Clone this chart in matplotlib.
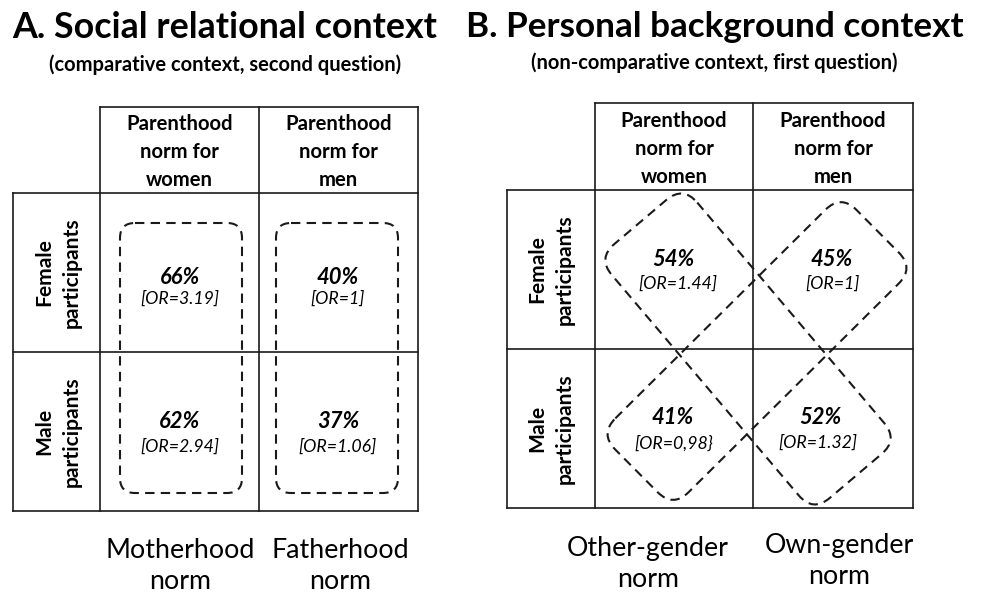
import matplotlib
matplotlib.use("Agg")
import matplotlib.pyplot as plt
from matplotlib.patches import FancyBboxPatch
from matplotlib.transforms import Affine2D

plt.rcParams['font.family'] = ['Lato', 'DejaVu Sans']

# ---------------- data ----------------
panel_titles = ["A. Social relational context", "B. Personal background context"]
panel_subtitles = ["(comparative context, second question)",
                   "(non-comparative context, first question)"]
col_headers = ["Parenthood\nnorm for\nwomen", "Parenthood\nnorm for\nmen"]
row_labels = ["Female\nparticipants", "Male\nparticipants"]
# rows: female, male ; cols: norm for women, norm for men
pct_A = [["66%", "40%"], ["62%", "37%"]]
or_A = [["[OR=3.19]", "[OR=1]"], ["[OR=2.94]", "[OR=1.06]"]]
pct_B = [["54%", "45%"], ["41%", "52%"]]
or_B = [["[OR=1.44]", "[OR=1]"], ["[OR=0,98}", "[OR=1.32]"]]
bottom_A = ["Motherhood\nnorm", "Fatherhood\nnorm"]
bottom_B = ["Other-gender\nnorm", "Own-gender\nnorm"]

W, H = 981, 593
fig = plt.figure(figsize=(W / 100, H / 100), dpi=100)
ax = fig.add_axes([0, 0, 1, 1])
ax.set_xlim(0, W)
ax.set_ylim(H, 0)
ax.set_aspect('equal')
ax.axis('off')

def px(p):
    return p * 0.72

LC = '#1a1a1a'
LW = 1.2

def draw_table(xs, ys_head, ys_rows, x_left):
    x0, x1, x2 = xs
    ax.plot([x0, x2], [ys_head[0], ys_head[0]], color=LC, lw=LW, solid_capstyle='projecting')
    for x in xs:
        ax.plot([x, x], [ys_head[0], ys_rows[-1]], color=LC, lw=LW, solid_capstyle='projecting')
    for y in ys_rows:
        ax.plot([x_left, x2], [y, y], color=LC, lw=LW, solid_capstyle='projecting')
    ax.plot([x_left, x_left], [ys_rows[0], ys_rows[-1]], color=LC, lw=LW, solid_capstyle='projecting')

def rounded(cx, cy, L, Wd, r, angle):
    p = FancyBboxPatch((cx - L / 2, cy - Wd / 2), L, Wd,
                       boxstyle=f"round,pad=0,rounding_size={r}",
                       fill=False, edgecolor=LC, lw=1.5, linestyle=(0, (4.5, 3.0)))
    p.set_transform(Affine2D().rotate_deg_around(cx, cy, angle) + ax.transData)
    ax.add_patch(p)

def fill_panel(xs, ys_head, ys_rows, x_left, head_y, row_x, pct, ors, pct_pos, or_pos,
               bottom, bottom_pos):
    draw_table(xs, ys_head, ys_rows, x_left)
    for j, h in enumerate(col_headers):
        cx = (xs[j] + xs[j + 1]) / 2
        ax.text(cx, head_y, h, ha='center', va='center', fontsize=px(20.3),
                fontweight='bold', linespacing=1.5)
    for i, rl in enumerate(row_labels):
        cy = (ys_rows[i] + ys_rows[i + 1]) / 2
        ax.text(row_x, cy, rl, ha='center', va='center', rotation=90,
                fontsize=px(21), fontweight='bold', linespacing=1.45)
    for i in range(2):
        for j in range(2):
            x, y = pct_pos[i][j]
            ax.text(x, y, pct[i][j], ha='center', va='center', fontsize=px(22),
                    fontweight='bold', fontstyle='italic')
            x, y = or_pos[i][j]
            ax.text(x, y, ors[i][j], ha='center', va='center', fontsize=px(17.7),
                    fontstyle='italic')
    for j, b in enumerate(bottom):
        x, y = bottom_pos[j]
        ax.text(x, y, b, ha='center', va='center', fontsize=px(26.7), linespacing=1.33)

# titles
ax.text(12, 27, panel_titles[0], ha='left', va='center', fontsize=px(35.7), fontweight='bold')
ax.text(466, 27, panel_titles[1], ha='left', va='center', fontsize=px(35.1), fontweight='bold')
ax.text(225, 65, panel_subtitles[0], ha='center', va='center', fontsize=px(20.2), fontweight='bold')
ax.text(714, 63, panel_subtitles[1], ha='center', va='center', fontsize=px(20.2), fontweight='bold')

# Panel A
fill_panel([100, 259, 418], [107, 193], [193, 352, 511], 13, 152, 58,
           pct_A, or_A,
           [[(180, 277), (338, 277)], [(180, 422), (338, 422)]],
           [[(180, 299), (338, 299)], [(180, 447), (338, 447)]],
           bottom_A, [(180, 566), (340, 566)])
rounded(181, 358, 122, 270, 15, 0)
rounded(337, 358, 122, 270, 15, 0)

# Panel B
fill_panel([595, 753, 913], [103, 190], [190, 349, 508], 507, 149, 551,
           pct_B, or_B,
           [[(673, 260), (832, 260)], [(673, 418), (820, 418)]],
           [[(678, 284), (833, 284)], [(674, 443), (818, 443)]],
           bottom_B, [(648, 564), (839, 561)])
rounded(748, 349, 333, 112, 22, 49.7)
rounded(757, 351, 340, 104, 22, -44.8)

fig.savefig("out.png", dpi=100)
